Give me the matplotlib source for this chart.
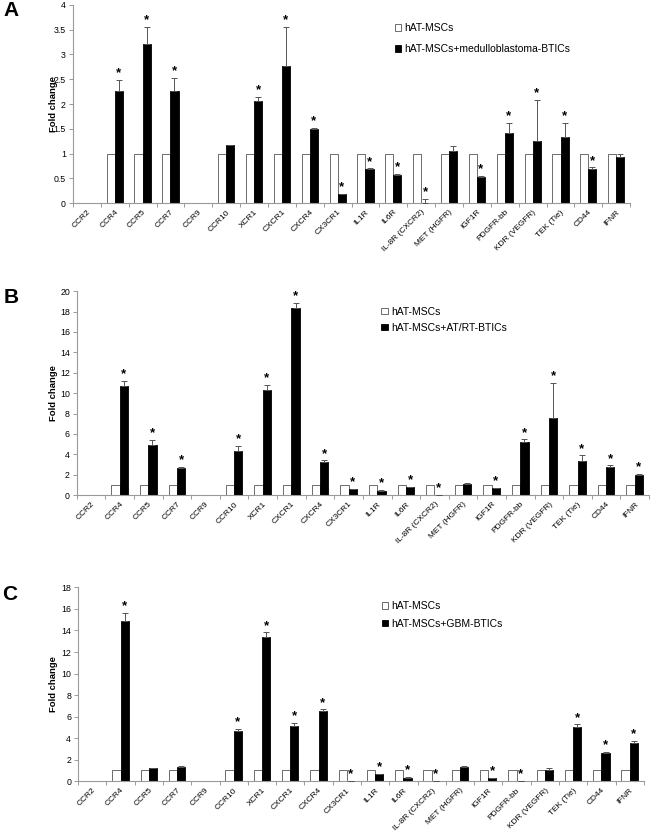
import matplotlib
matplotlib.use('Agg')
import matplotlib.pyplot as plt
import matplotlib.transforms as mtransforms
import numpy as np

plt.rcParams['font.family'] = ['Liberation Sans', 'DejaVu Sans']

genes = ['CCR2', 'CCR4', 'CCR5', 'CCR7', 'CCR9', 'CCR10', 'XCR1', 'CXCR1', 'CXCR4',
         'CX3CR1', 'IL1R', 'IL6R', 'IL-8R (CXCR2)', 'MET (HGFR)', 'IGF1R', 'PDGFR-bb',
         'KDR (VEGFR)', 'TEK (Tie)', 'CD44', 'IFNR']

# control (hAT-MSCs) = 1, CCR2 / CCR9 not detected
ctrl = [0, 1, 1, 1, 0, 1, 1, 1, 1, 1, 1, 1, 1, 1, 1, 1, 1, 1, 1, 1]

# panel A: medulloblastoma
a_vals = [0, 2.27, 3.22, 2.26, 0, 1.17, 2.06, 2.76, 1.50, 0.18, 0.69, 0.57, 0.01,
          1.06, 0.53, 1.42, 1.25, 1.33, 0.69, 0.92]
a_err = [0, 0.22, 0.34, 0.26, 0, 0.01, 0.09, 0.80, 0.01, 0.01, 0.01, 0.02, 0.08,
         0.10, 0.02, 0.20, 0.83, 0.29, 0.03, 0.06]
a_star = [0, 1, 1, 1, 0, 0, 1, 1, 1, 1, 1, 1, 1, 0, 1, 1, 1, 1, 1, 0]

# panel B: AT/RT
b_vals = [0, 10.7, 4.95, 2.65, 0, 4.3, 10.35, 18.4, 3.25, 0.55, 0.42, 0.75, 0.0,
          1.1, 0.65, 5.2, 7.55, 3.35, 2.8, 1.95]
b_err = [0, 0.5, 0.45, 0.1, 0, 0.55, 0.45, 0.45, 0.15, 0.05, 0.05, 0.05, 0.0,
         0.05, 0.05, 0.25, 3.45, 0.55, 0.1, 0.12]
b_star = [0, 1, 1, 1, 0, 1, 1, 1, 1, 1, 1, 1, 1, 0, 1, 1, 1, 1, 1, 1]

# panel C: GBM
c_vals = [0, 14.9, 1.2, 1.32, 0, 4.67, 13.35, 5.13, 6.5, 0.0, 0.65, 0.34, 0.0,
          1.33, 0.28, 0.03, 1.05, 5.07, 2.6, 3.58]
c_err = [0, 0.75, 0.03, 0.05, 0, 0.2, 0.48, 0.3, 0.18, 0.0, 0.05, 0.05, 0.0,
         0.04, 0.04, 0.0, 0.15, 0.2, 0.12, 0.16]
c_star = [0, 1, 0, 0, 0, 1, 1, 1, 1, 1, 1, 1, 1, 0, 1, 1, 0, 1, 1, 1]

panels = [
    ('A', a_vals, a_err, a_star, 'hAT-MSCs+medulloblastoma-BTICs', 4, 0.5),
    ('B', b_vals, b_err, b_star, 'hAT-MSCs+AT/RT-BTICs', 20, 2),
    ('C', c_vals, c_err, c_star, 'hAT-MSCs+GBM-BTICs', 18, 2),
]

# axes rectangles in figure fractions
rects = [
    [0.112, 0.756, 0.856, 0.238],
    [0.118, 0.405, 0.879, 0.245],
    [0.120, 0.061, 0.869, 0.233],
]
legend_pos = [(0.57, 0.93, 1.05), (0.525, 0.945, 0.6), (0.53, 0.95, 0.7)]
ylabel_x = [-0.027, -0.033, -0.035]
letter_pos = [(0.006, 0.987), (0.006, 0.643), (0.003, 0.285)]

fig = plt.figure(figsize=(6.51, 8.32), dpi=100)
axcol = '#9a9a9a'
w = 0.29
shift = mtransforms.ScaledTranslation(-5 / 72, 0, fig.dpi_scale_trans)

for k, (letter, vals, err, star, lab, ymax, ystep) in enumerate(panels):
    ax = fig.add_axes(rects[k])
    x = np.arange(len(genes)) + 0.5
    c = np.array(ctrl, dtype=float)
    v = np.array(vals, dtype=float)
    e = np.array(err, dtype=float)
    m = c > 0
    ax.bar(x[m] - w / 2, c[m], w, color='white', edgecolor='#555555', linewidth=0.6,
           label='hAT-MSCs', zorder=2)
    ax.bar(x[m] + w / 2, v[m], w, color='black', edgecolor='black', linewidth=0.6,
           label=lab, zorder=2)
    ax.errorbar(x[m] + w / 2, v[m], yerr=[np.zeros(m.sum()), e[m]], fmt='none',
                ecolor='#555555', elinewidth=0.7, capsize=2, capthick=0.7, zorder=3)
    for i in range(len(genes)):
        if star[i]:
            top = v[i] + e[i]
            ax.text(x[i] + w / 2, top + ymax * 0.003, '*', ha='center', va='bottom',
                    fontsize=9.5, fontweight='bold')

    ax.set_xlim(0, len(genes))
    ax.set_ylim(0, ymax)
    ticks = np.arange(0, ymax + ystep / 2, ystep)
    ax.set_yticks(ticks)
    ax.set_yticklabels(['%g' % t for t in ticks], fontsize=6.3)
    ax.set_xticks(np.arange(len(genes) + 1))
    ax.set_xticklabels([])
    ax.set_xticks(x, minor=True)
    ax.set_xticklabels(genes, minor=True, rotation=45, ha='right', va='top',
                       rotation_mode='anchor', fontsize=6.0)
    for t in ax.get_xticklabels(minor=True):
        t.set_transform(t.get_transform() + shift)
    ax.tick_params(axis='x', which='minor', length=0, pad=4)
    ax.tick_params(axis='x', which='major', length=3, color=axcol, width=0.7)
    ax.tick_params(axis='y', length=3, color=axcol, width=0.7, pad=2)
    for s in ['top', 'right']:
        ax.spines[s].set_visible(False)
    for s in ['left', 'bottom']:
        ax.spines[s].set_color(axcol)
        ax.spines[s].set_linewidth(0.8)
    ax.set_ylabel('Fold change', fontsize=6.8, fontweight='bold')
    ax.yaxis.set_label_coords(ylabel_x[k], 0.5)

    lx, ly, sp = legend_pos[k]
    ax.legend(loc='upper left', bbox_to_anchor=(lx, ly), frameon=False, fontsize=7.5,
              handlelength=0.6, handleheight=0.6, handletextpad=0.3,
              labelspacing=sp, borderaxespad=0)

    fig.text(letter_pos[k][0], letter_pos[k][1], letter, fontsize=15, fontweight='bold',
             ha='left', va='center')

fig.savefig('out.png', dpi=100)
